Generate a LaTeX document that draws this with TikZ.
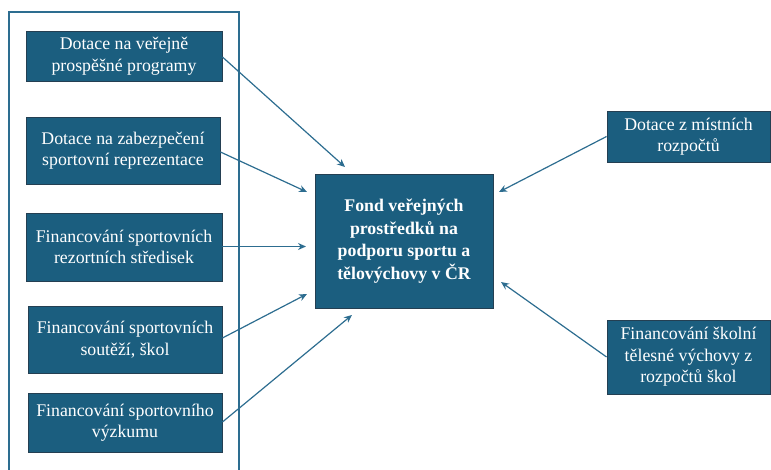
\documentclass[tikz,border=0pt]{standalone}
\usepackage{fontspec}
\setmainfont{Liberation Serif}
\usepackage{tikz}
\usetikzlibrary{arrows.meta}
\definecolor{boxfill}{HTML}{1B5E7F}
\definecolor{boxline}{HTML}{243F52}
\definecolor{linkcol}{HTML}{2D6D90}

\begin{document}
\begin{tikzpicture}[
    x=1pt, y=-1pt,
    src/.style={draw=boxline, line width=0.9pt, fill=boxfill, text=white,
      align=center, inner sep=0pt, font=\fontsize{17.8}{21.5}\selectfont},
    fund/.style={src, font=\fontsize{17.8}{22.5}\selectfont\bfseries},
    link/.style={-{Stealth[length=8pt,width=7pt]}, draw=linkcol, line width=1.2pt},
]
    \useasboundingbox (0,0) rectangle (771,470);
    \draw[linkcol, line width=1.2pt] (9,470) -- (9,12) -- (239,12) -- (239,470);

    \node (fond) at (404,241) [fund, minimum width=178, minimum height=134]
      {Fond veřejných\\prostředků na\\podporu sportu a\\tělovýchovy v ČR};

    \node (d1) at (124,56) [src, minimum width=196, minimum height=50]
      {Dotace na veřejně\\prospěšné programy};
    \node (d2) at (123,150.5) [src, minimum width=194, minimum height=67]
      {Dotace na zabezpečení\\sportovní reprezentace};
    \node (d3) at (124,247) [src, minimum width=196, minimum height=68]
      {Financování sportovních\\rezortních středisek};
    \node (d4) at (125,339.5) [src, minimum width=194, minimum height=67]
      {Financování sportovních\\soutěží, škol};
    \node (d5) at (125,422.5) [src, minimum width=194, minimum height=59]
      {Financování sportovního\\výzkumu};
    \node (r1) at (688.5,136.5) [src, minimum width=163, minimum height=51]
      {Dotace z místních\\rozpočtů};
    \node (r2) at (688.5,357) [src, minimum width=163, minimum height=74]
      {Financování školní\\tělesné výchovy z\\rozpočtů škol};

    % ends of the arrows, short of the fund box
    \coordinate (e1) at (345,167);
    \coordinate (e2) at (307,192);
    \coordinate (e3) at (306,246.5);
    \coordinate (e4) at (307,294);
    \coordinate (e5) at (352,315);
    \coordinate (f1) at (499,192);
    \coordinate (f2) at (501,282);

    \foreach \a/\b in {1/57,2/152,3/246.5,4/338,5/422}
    {
      \draw[link] (d\a.east |- 0,\b) -- (e\a);
    }
    \draw[link] (r1.west) -- (f1);
    \draw[link] (r2.west) -- (f2);
\end{tikzpicture}
\end{document}
